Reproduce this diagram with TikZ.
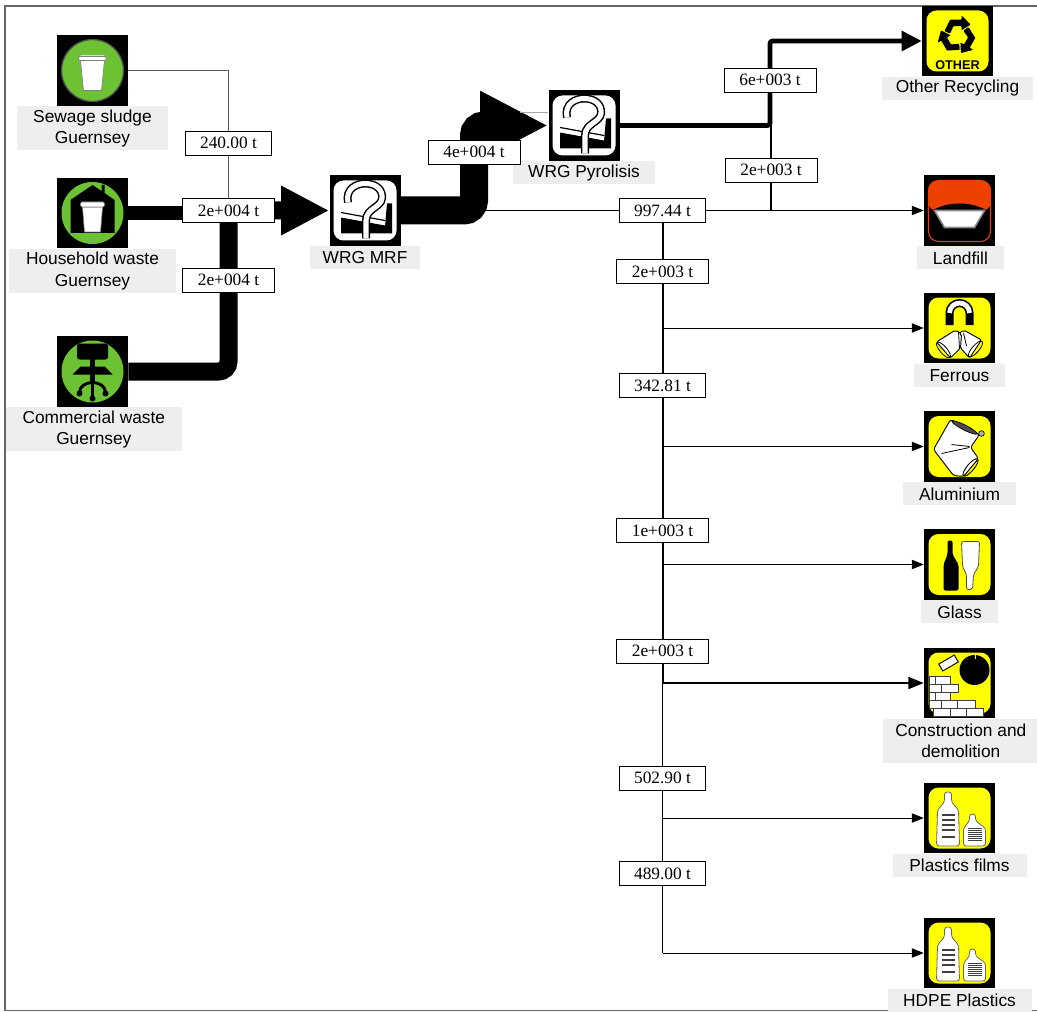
\documentclass[tikz,border=0pt]{standalone}
\usepackage{fontspec}
\setmainfont{Liberation Sans}
\newfontfamily\flowfont{Liberation Serif}
\usetikzlibrary{arrows.meta,positioning,backgrounds}
\definecolor{icongreen}{HTML}{6CC233}
\definecolor{iconyellow}{HTML}{FFFF00}
\definecolor{iconred}{HTML}{EE4000}
\definecolor{tagfill}{HTML}{EEEEEE}
\tikzset{
  pics/greenbase/.style={code={\fill[icongreen] (0,0) circle[radius=31];}},
  pics/yellowbase/.style={code={\fill[iconyellow,rounded corners=7.5pt] (-31,-30.5) rectangle (31,30.5);}},
  pics/greenbin/.style={code={
    \draw[black!70,fill=icongreen,line width=1pt] (0,0) circle[radius=31];
    \fill[white,rounded corners=1pt] (-13,-15) rectangle (13,-9);
    \draw[black!50,fill=white,line width=.5pt] (-12,-10) -- (-9,20) -- (9,20) -- (12,-10) -- cycle;
    \draw[black!50,fill=white,line width=.5pt,rounded corners=1pt] (-14,-14) rectangle (14,-10);
  }},
  pics/housebin/.style={code={
    \pic {greenbase};
    \fill (0,-28) -- (-22,-13) -- (-22,20) -- (22,20) -- (22,-13) -- (12,-20) -- (12,-28) -- (9,-28) -- (9,-22) -- cycle;
    \draw[black!50,fill=white,line width=.5pt] (-10,-6) -- (-8,19) -- (8,19) -- (10,-6) -- cycle;
    \draw[black!50,fill=white,line width=.5pt,rounded corners=1pt] (-12,-11) rectangle (12,-6);
  }},
  pics/chair/.style={code={
    \pic {greenbase};
    \fill[rounded corners=2pt] (-15.5,-28) rectangle (15.5,-12);
    \fill (-2.5,-13) rectangle (2.5,12);
    \fill (-20,3) -- (-12,-5) -- (12,-5) -- (20,3) -- cycle;
    \draw[line width=2.2pt] (0,11) to[out=180,in=90] (-13,21);
    \draw[line width=2.2pt] (0,11) to[out=0,in=90] (13,21);
    \draw[line width=2.2pt] (0,10) -- (0,26);
    \foreach \cx/\cy in {-13/22,0/27,13/22} \fill (\cx,\cy) circle[radius=3];
  }},
  pics/query/.style={code={
    \fill[white,rounded corners=7.5pt] (-31.5,-30) rectangle (31.5,30);
    \fill (-24,7) -- (20,15) -- (22,-7) -- (27,-7) -- (27,23) -- (-24,23) -- cycle;
    \fill[white] (-24,2) -- (20,10) -- (20,14.5) -- (-24,6.5) -- cycle;
    \draw[line width=.9pt] (-24,2) -- (20,10);
    \draw[line width=1.1pt,double=white,double distance=3.8pt]
      (-17,-8) .. controls (-20,-22) and (-8,-27) .. (0,-27)
      .. controls (12,-27) and (18,-20) .. (17,-12)
      .. controls (16,-3) and (1,-2) .. (1,10) -- (1,28);
  }},
  pics/recycle/.style={code={
    \pic {yellowbase};
    \foreach \ang in {0,120,240}
      \fill[shift={(0,-5)},rotate=\ang,scale=.82,rounded corners=.6pt]
        (-16,-6) -- (-9,-20) -- (5,-20) -- (5,-25) -- (16,-14) -- (5,-7) -- (5,-12) -- (-5,-12) -- (-9,-3) -- cycle;
    \node[font=\bfseries\fontsize{9.5}{10}\selectfont,inner sep=0pt] (otherword) at (0,24) {OTHER};
  }},
  pics/skip/.style={code={
    \draw[iconred,fill=black,line width=.8pt,rounded corners=7.5pt] (-31,-30) rectangle (31,31);
    \fill[iconred,rounded corners=7.5pt] (-31.4,1) -- (-31.4,-30) -- (31.4,-30) -- (31.4,1) -- cycle;
    \fill (-30,1) .. controls (-20,-4) and (-12,-7) .. (0,-7) .. controls (12,-7) and (20,-4) .. (30,1) -- cycle;
    \draw[black!45,fill=white,line width=1.2pt] (-25,0) -- (25,0) -- (15,17) -- (-15,17) -- cycle;
  }},
  pics/ferrous/.style={code={
    \pic {yellowbase};
    \draw[line width=6pt] (-10,-3) -- (-10,-15) arc[start angle=180,end angle=360,radius=10] -- (10,-3);
    \draw[white,line width=3.6pt] (-10,-15) arc[start angle=180,end angle=360,radius=10];
    \draw[fill=white,line width=.7pt,rounded corners=1.5pt] (22,12) -- (4,2) -- (-1,6) -- (1,20) -- (10,30) -- cycle;
    \draw[fill=white,line width=.7pt,rounded corners=1.5pt] (-23,14) -- (-4,2) -- (2,6) -- (1,20) -- (-9,30) -- cycle;
    \draw[line width=.6pt] (-1,4) -- (0,20) (4,5) -- (7,18);
    \draw[line width=.6pt,rotate around={-49:(-16,22)}] (-16,22) ellipse[x radius=10,y radius=3.5];
    \draw[line width=.6pt,rotate around={49:(16,21)}] (16,21) ellipse[x radius=10,y radius=3.5];
  }},
  pics/alucan/.style={code={
    \pic {yellowbase};
    \draw[fill=white,line width=.7pt,rounded corners=2pt] (-9,-27) -- (20,-12) -- (11,1) -- (19,12) -- (4,30) -- (-6,29) -- (-26,3) -- cycle;
    \draw[fill=black!30,line width=.5pt] (22,-13) circle[radius=2.8];
    \draw[fill=black!70,line width=.5pt,rotate around={-27:(5,-19)}] (5,-19) ellipse[x radius=14,y radius=2.5];
    \draw[line width=.6pt] (-8,-2) -- (10,0) (-18,7) -- (10,1);
    \draw[line width=.7pt,rotate around={50:(11,21)}] (11,21) ellipse[x radius=11,y radius=3.5];
  }},
  pics/glassware/.style={code={
    \pic {yellowbase};
    \fill[rounded corners=1.5pt] (-12,-24) -- (-7,-24) -- (-7,-10) -- (-1,0) -- (-1,26) -- (-16,26) -- (-16,0) -- (-12,-10) -- cycle;
    \draw[black!70,fill=white,line width=.6pt,rounded corners=1.5pt] (2,-23) -- (20,-23) -- (19,2) -- (14,10) -- (13,25) -- (7,25) -- (7,10) -- (3,2) -- cycle;
  }},
  pics/rubble/.style={code={
    \pic {yellowbase};
    \fill (15,-13) circle[radius=15];
    \draw[iconyellow,line width=1pt] (16,-29) -- (16,-24);
    \draw[black,fill=white,line width=.7pt,rotate around={30:(-11,-20)}] (-20,-24) rectangle (-2,-16);
    \foreach \yy/\xs in {-7/{-30/-24,-24/-9},1/{-30/-18,-18/-1},9/{-30/-24,-24/-9},17/{-30/-18,-18/-2,-2/16},25/{-26/-9,-9/7,7/24}}
      \foreach \xa/\xb in \xs
        \draw[black!75,fill=white,line width=.6pt] (\xa,\yy) rectangle (\xb,\yy+8);
  }},
  pics/bottles/.style={code={
    \pic {yellowbase};
    \draw[black!60,fill=white,line width=.6pt,rounded corners=2pt] (-15,-26) -- (-8,-26) -- (-8,-16) -- (-1,-8) -- (0,28) -- (-23,28) -- (-22,-8) -- (-15,-16) -- cycle;
    \draw[black!60,fill=white,line width=.6pt,rounded corners=2pt] (10,-4) -- (16,-4) -- (16,3) -- (26,10) -- (26,28) -- (4,28) -- (4,10) -- (10,3) -- cycle;
    \foreach \yy in {-3,2,7,12,19} \draw[line width=.8pt,black!75] (-18,\yy) -- (-5,\yy);
    \foreach \yy in {10,12,14,16,18,20,22} \draw[line width=.5pt,black!75] (8,\yy) -- (22,\yy);
  }},
}
\begin{document}
\begin{tikzpicture}[
    x=0.75pt,y=-0.75pt,
    icon/.style={fill=black,draw=none,inner sep=0pt,minimum width=53.25pt,minimum height=53pt},
    tag/.style={fill=tagfill,inner sep=0pt,align=center,minimum height=17.25pt,font=\fontsize{13}{16}\selectfont},
    flowbox/.style={draw=black,fill=white,line width=.7pt,inner sep=0pt,minimum height=18pt,minimum width=65pt,font=\flowfont\fontsize{13}{14}\selectfont},
    wideflow/.style={flowbox,minimum width=69pt},
    flow/.style={draw=black,rounded corners=7.5pt},
    branch/.style={-{Triangle[length=9pt,width=7pt]},draw=black,line width=.75pt}
  ]
  \useasboundingbox (0,0) rectangle (1037,1012);
  \draw[black!60,line width=1.1pt] (1037,6) -- (5,6) -- (5,1010.5) -- (1037,1010.5);
  % sources
  \node[icon] (sewage) at (92.5,70.5) {};
  \node[icon] (household) at (92.5,213) {};
  \node[icon] (commercial) at (92.5,371.5) {};
  \node[tag,minimum width=113pt,minimum height=33pt,below=0pt of sewage] (sewagetag) {Sewage sludge\\Guernsey};
  \node[tag,minimum width=125pt,minimum height=33pt,below=0pt of household] (householdtag) {Household waste\\Guernsey};
  \node[tag,minimum width=132pt,minimum height=33pt,below=0pt of commercial,xshift=1pt] (commercialtag) {Commercial waste\\Guernsey};
  % processes
  \node[icon] (mrf) at (365,210.5) {};
  \node[icon] (pyrolisis) at (584,125.5) {};
  \node[tag,minimum width=82.5pt,below=0pt of mrf] (mrftag) {WRG MRF};
  \node[tag,minimum width=106pt,below=0pt of pyrolisis] (pyrolisistag) {WRG Pyrolisis};
  % destinations
  \node[icon] (other) at (957.5,41) {};
  \node[icon] (landfill) at (959.5,210.5) {};
  \node[icon] (ferrous) at (959.5,328) {};
  \node[icon] (aluminium) at (959.5,446.5) {};
  \node[icon] (glass) at (959.5,564.5) {};
  \node[icon] (construction) at (959.5,683) {};
  \node[icon] (films) at (959.5,818) {};
  \node[icon] (hdpe) at (959.5,953) {};
  \node[tag,minimum width=113pt,below=0pt of other] (othertag) {Other Recycling};
  \node[tag,minimum width=65pt,below=0pt of landfill,xshift=.7pt] (landfilltag) {Landfill};
  \node[tag,minimum width=68pt,below=0pt of ferrous] (ferroustag) {Ferrous};
  \node[tag,minimum width=85pt,below=0pt of aluminium] (aluminiumtag) {Aluminium};
  \node[tag,minimum width=58pt,below=0pt of glass] (glasstag) {Glass};
  \node[tag,minimum width=117.5pt,minimum height=33pt,below=0pt of construction,xshift=1pt] (constructiontag) {Construction and\\demolition};
  \node[tag,minimum width=100.5pt,below=0pt of films] (filmstag) {Plastics films};
  \node[tag,minimum width=108pt,below=0pt of hdpe] (hdpetag) {HDPE Plastics};
  % flow labels
  \node[flowbox] (f240) at (228.5,143) {240.00 t};
  \node[wideflow] (fhouse) at (228.5,210.5) {2e+004 t};
  \node[wideflow] (fcomm) at (228.5,280) {2e+004 t};
  \node[wideflow] (fmrf) at (474,152) {4e+004 t};
  \node[wideflow] (fother) at (770,80) {6e+003 t};
  \node[wideflow] (fsplit) at (771,170) {2e+003 t};
  \node[flowbox] (fland) at (662.5,210.5) {997.44 t};
  \node[wideflow] (fferr) at (662.5,271.5) {2e+003 t};
  \node[flowbox] (falu) at (662.5,385.5) {342.81 t};
  \node[wideflow] (fglass) at (662.5,530.5) {1e+003 t};
  \node[wideflow] (fcons) at (662.5,651) {2e+003 t};
  \node[flowbox] (ffilm) at (662.5,778) {502.90 t};
  \node[flowbox] (fhdpe) at (662.5,873.5) {489.00 t};
  % icon faces
  \pic at (sewage) {greenbin};
  \pic at (household) {housebin};
  \pic at (commercial) {chair};
  \pic at (mrf) {query};
  \pic at (pyrolisis) {query};
  \pic at (other) {recycle};
  \pic at (landfill) {skip};
  \pic at (ferrous) {ferrous};
  \pic at (aluminium) {alucan};
  \pic at (glass) {glassware};
  \pic at (construction) {rubble};
  \pic at (films) {bottles};
  \pic at (hdpe) {bottles};
  \coordinate (split) at (771,125.5);
  \coordinate (faint) at (520,112);
  % connectors
  \begin{scope}[on background layer]
    \draw[black!65,line width=.8pt] (sewage.east) -| (f240) -- (fhouse);
    \draw[black,line width=10.5pt] (household.east) -- (household.east -| fhouse);
    \draw[flow,line width=13.5pt,-{Triangle[length=36pt,width=34.5pt]}] (commercial.east) -| (fhouse.center) -- (mrf.west);
    \draw[flow,line width=21pt,-{Triangle[length=51pt,width=48pt]}] (mrf.east) -| (fmrf.center) |- (pyrolisis.west);
    \draw[black!35,line width=.7pt] (faint) -- (faint -| pyrolisis.west);
    \draw[flow,rounded corners=2pt,line width=3.6pt,-{Triangle[length=15pt,width=14.5pt]}] (pyrolisis.east) -| (fother.center) |- (other.west);
    \draw[branch] (mrf.east) -- (landfill.west);
    \draw[black,line width=.8pt] (split) -- (fsplit) -- (fsplit |- landfill);
    \foreach \via/\dest/\wd/\hw/\hd in {fhdpe/hdpe/.7/.7/9,ffilm/films/.9/.7/9,fcons/construction/1.5/1.2/11.5,fglass/glass/1.3/.85/9,falu/aluminium/1.3/.75/9,fferr/ferrous/1.5/.75/9}{
      \draw[line width=\wd pt] (fland.center) -- (\via.center) -- (\via |- \dest);
      \draw[branch,line width=\hw pt,-{Triangle[length=\hd pt,width=.78*\hd pt]}] (\via |- \dest) -- (\dest.west);
    }
  \end{scope}
\end{tikzpicture}
\end{document}
